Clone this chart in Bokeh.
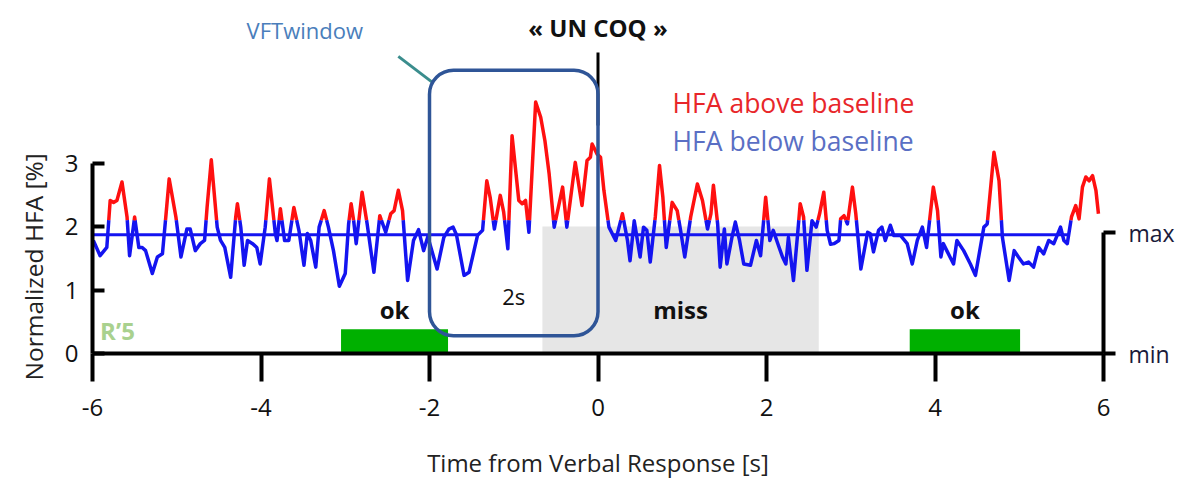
import numpy as np
from bokeh.plotting import figure
from bokeh.models import BoxAnnotation, LinearAxis, Range1d, FixedTicker, Label, Title
from bokeh.core.properties import value
from bokeh.embed import file_html
from bokeh.resources import INLINE

# ---------------- data ----------------
time_s = [-5.99, -5.91, -5.83, -5.79, -5.75, -5.71, -5.65, -5.59, -5.56, -5.50,
          -5.45, -5.41, -5.37, -5.29, -5.23, -5.17, -5.13, -5.09, -5.01, -4.95,
          -4.88, -4.84, -4.78, -4.72, -4.67, -4.64, -4.59, -4.52, -4.48, -4.43,
          -4.36, -4.30, -4.28, -4.24, -4.20, -4.16, -4.10, -4.05, -4.01, -3.95,
          -3.90, -3.83, -3.81, -3.77, -3.72, -3.67, -3.61, -3.55, -3.49, -3.45,
          -3.41, -3.35, -3.31, -3.25, -3.20, -3.14, -3.07, -3.00, -2.96, -2.93,
          -2.90, -2.87, -2.80, -2.74, -2.66, -2.59, -2.52, -2.46, -2.42, -2.37,
          -2.32, -2.26, -2.19, -2.13, -2.07, -2.02, -1.91, -1.83, -1.77, -1.72,
          -1.68, -1.59, -1.53, -1.43, -1.37, -1.32, -1.28, -1.23, -1.16, -1.12,
          -1.07, -1.02, -0.94, -0.90, -0.86, -0.82, -0.74, -0.68, -0.63, -0.58,
          -0.52, -0.42, -0.37, -0.27, -0.19, -0.13, -0.09, -0.07, -0.01, 0.03,
          0.07, 0.13, 0.21, 0.29, 0.35, 0.38, 0.43, 0.50, 0.54, 0.58,
          0.62, 0.68, 0.73, 0.77, 0.81, 0.88, 0.94, 0.98, 1.03, 1.10,
          1.18, 1.24, 1.30, 1.34, 1.37, 1.42, 1.45, 1.50, 1.53, 1.59,
          1.63, 1.68, 1.73, 1.81, 1.88, 1.93, 1.99, 2.04, 2.08, 2.15,
          2.19, 2.23, 2.26, 2.32, 2.37, 2.40, 2.44, 2.48, 2.54, 2.59,
          2.63, 2.68, 2.72, 2.76, 2.80, 2.86, 2.88, 2.92, 2.96, 3.02,
          3.06, 3.12, 3.20, 3.23, 3.27, 3.33, 3.37, 3.41, 3.47, 3.51,
          3.59, 3.67, 3.73, 3.79, 3.85, 3.90, 3.98, 4.03, 4.07, 4.10,
          4.14, 4.22, 4.26, 4.34, 4.42, 4.48, 4.58, 4.62, 4.70, 4.76,
          4.80, 4.88, 4.94, 4.99, 5.05, 5.11, 5.17, 5.23, 5.29, 5.35,
          5.41, 5.49, 5.53, 5.57, 5.62, 5.67, 5.71, 5.75, 5.79, 5.83,
          5.87, 5.91, 5.94]
hfa = [1.78, 1.54, 1.67, 2.41, 2.38, 2.41, 2.70, 2.15, 1.54, 2.15,
       1.67, 1.67, 1.62, 1.26, 1.52, 1.57, 2.15, 2.75, 2.15, 1.52,
       1.96, 1.96, 1.62, 1.73, 1.78, 2.30, 3.05, 1.99, 1.78, 1.67,
       1.20, 2.15, 2.36, 1.99, 1.39, 1.78, 1.73, 1.67, 1.41, 1.99,
       2.75, 1.89, 1.78, 2.28, 1.78, 1.78, 2.30, 1.94, 1.39, 1.89,
       1.78, 1.36, 1.99, 2.25, 1.99, 1.62, 1.06, 1.26, 2.04, 2.36,
       2.09, 1.73, 2.54, 2.04, 1.28, 2.17, 1.91, 2.20, 2.25, 2.57,
       2.25, 1.15, 1.78, 1.95, 1.62, 1.84, 1.33, 1.83, 1.96, 1.99,
       1.87, 1.23, 1.28, 1.86, 1.94, 2.72, 2.46, 1.96, 2.49, 2.23,
       1.65, 3.43, 2.41, 2.36, 2.41, 1.91, 3.96, 3.72, 3.35, 2.83,
       1.99, 2.62, 1.99, 3.01, 2.33, 3.04, 3.09, 3.30, 3.14, 3.09,
       2.57, 1.99, 1.78, 2.20, 1.78, 1.46, 2.09, 1.52, 1.99, 1.94,
       1.44, 2.15, 2.96, 2.46, 1.67, 2.38, 2.25, 1.94, 1.52, 2.15,
       2.67, 2.41, 1.96, 2.20, 2.65, 2.04, 1.36, 1.96, 1.41, 1.83,
       2.07, 1.78, 1.41, 1.39, 1.78, 1.54, 2.46, 1.78, 1.94, 1.67,
       1.52, 1.41, 1.83, 1.15, 1.89, 2.36, 2.15, 1.31, 2.09, 1.99,
       2.20, 2.54, 1.94, 1.72, 1.73, 1.78, 2.12, 2.17, 2.04, 2.62,
       2.20, 1.33, 1.91, 1.89, 1.60, 1.94, 1.99, 1.78, 2.02, 1.86,
       1.86, 1.73, 1.41, 1.78, 1.99, 1.67, 2.62, 2.25, 1.52, 1.73,
       1.62, 1.41, 1.78, 1.62, 1.41, 1.23, 1.99, 2.04, 3.17, 2.72,
       1.83, 1.15, 1.62, 1.52, 1.41, 1.44, 1.36, 1.67, 1.57, 1.78,
       1.73, 1.99, 1.78, 1.73, 2.15, 2.33, 2.12, 2.62, 2.78, 2.72,
       2.80, 2.57, 2.20]

baseline_level = 1.87
baseline_start = [-6.0, 0.18]
baseline_end = [-1.42, 5.58]
color_threshold = 2.1

event_start = [-3.05, -0.66, 3.70]
event_end = [-1.78, 2.62, 5.01]
event_top = [0.38, 2.0, 0.38]
event_label = ["ok", "miss", "ok"]
event_color = ["#00b000", "#e6e6e6", "#00b000"]

x_ticks = [-6, -4, -2, 0, 2, 4, 6]
y_ticks = [0, 1, 2, 3]
scale_ticks = [0, 1.9]
scale_labels = ["min", "max"]

FONT = "Open Sans"

# ---------------- split trace at the colour threshold ----------------
t = np.array(time_s, dtype=float)
v = np.array(hfa, dtype=float)
T = color_threshold
xs, ys = [t[0]], [v[0]]
for i in range(len(t) - 1):
    a, b = v[i] - T, v[i + 1] - T
    if a * b < 0:
        f = a / (a - b)
        xs.append(t[i] + f * (t[i + 1] - t[i]))
        ys.append(T)
    xs.append(t[i + 1])
    ys.append(v[i + 1])
xs = np.array(xs)
ys = np.array(ys)
red_y = np.where(ys >= T - 1e-9, ys, np.nan)
blue_y = np.where(ys <= T + 1e-9, ys, np.nan)

# ---------------- figure ----------------
PX_Y = 63.5
p = figure(width=1186, height=485, x_range=Range1d(-6, 6), y_range=Range1d(0, 340 / PX_Y),
           output_backend="svg", toolbar_location=None,
           min_border_left=92, min_border_right=83, min_border_top=13, min_border_bottom=132)
p.outline_line_color = None
p.grid.visible = False
p.background_fill_color = "white"

# events (gray miss zone and green ok bars)
p.quad(left=event_start, right=event_end, bottom=0, top=event_top,
       fill_color=event_color, line_color=None, level="underlay")
lab_x = [(s + e) / 2 for s, e in zip(event_start, event_end)]
p.text(x=lab_x, y=[0.70] * 3, text=event_label, text_align="center", text_baseline="middle",
       text_font=value(FONT), text_font_size="24px", text_font_style="bold", text_color="#111111")

# baseline and trace
p.segment(x0=baseline_start, x1=baseline_end, y0=[baseline_level] * 2, y1=[baseline_level] * 2,
          line_color="#1414f0", line_width=3)
p.line(xs, blue_y, line_color="#1414f0", line_width=3.5, line_join="round")
p.line(xs, red_y, line_color="#ff1010", line_width=3.5, line_join="round")

# VFT window box
box = BoxAnnotation(left=-2.0, right=0.0, bottom=0.28, top=4.46, fill_alpha=0,
                    line_color="#2f5597", line_alpha=1, line_width=3.5, border_radius=24)
p.add_layout(box)
p.segment(x0=[-2.37], y0=[4.68], x1=[-1.965], y1=[4.27], line_color="#3a8d8d", line_width=3)
p.add_layout(Label(x=-3.48, y=5.09, text="VFTwindow", text_align="center", text_baseline="middle",
                   text_font=FONT, text_font_size="22px", text_color="#4a7ebb"))
p.add_layout(Label(x=-1.0, y=0.90, text="2s", text_align="center", text_baseline="middle",
                   text_font=FONT, text_font_size="22px", text_color="#111111"))

# verbal response marker
p.segment(x0=[0], y0=[3.59], x1=[0], y1=[4.74], line_color="black", line_width=3)
p.add_layout(Label(x=0, y=5.13, text="« UN COQ »", text_align="center", text_baseline="middle",
                   text_font=FONT, text_font_size="24px", text_font_style="bold", text_color="#111111"))

# legend texts
p.add_layout(Label(x=0.885, y=3.94, text="HFA above baseline", text_baseline="middle",
                   text_font=FONT, text_font_size="26.5px", text_color="#e8262a"))
p.add_layout(Label(x=0.885, y=3.35, text="HFA below baseline", text_baseline="middle",
                   text_font=FONT, text_font_size="26.5px", text_color="#5a6fc4"))
p.add_layout(Label(x=-5.91, y=0.36, text="R’5", text_baseline="middle",
                   text_font=FONT, text_font_size="24px", text_font_style="bold", text_color="#a9d18e"))

# axes
xa = p.xaxis[0]
xa.bounds = (-6, 6)
xa.ticker = FixedTicker(ticks=x_ticks)
xa.major_label_overrides = {k: str(k) for k in x_ticks}
xa.minor_tick_line_color = None
xa.axis_line_width = 4
xa.major_tick_line_width = 4
xa.major_tick_out = 28
xa.major_tick_in = 0
xa.major_label_standoff = 17
xa.major_label_text_font = FONT
xa.major_label_text_font_size = "24px"
xa.major_label_text_color = "#111111"
xa.axis_label = "Time from Verbal Response [s]"
xa.axis_label_text_font = FONT
xa.axis_label_text_font_size = "24px"
xa.axis_label_text_font_style = "normal"
xa.axis_label_text_color = "#222222"
xa.axis_label_standoff = 27

ya = p.yaxis[0]
ya.bounds = (0, 3)
ya.ticker = FixedTicker(ticks=y_ticks)
ya.minor_tick_line_color = None
ya.axis_line_width = 4
ya.major_tick_line_width = 4
ya.major_tick_out = 0
ya.major_tick_in = 12
ya.major_label_standoff = 14
ya.major_label_text_font = FONT
ya.major_label_text_font_size = "24px"
ya.major_label_text_color = "#111111"

# y axis title, placed lower than the frame centre as in the original
ytitle = Title(text="Normalized HFA [%]", align="left", vertical_align="top", offset=-27,
               standoff=20, text_font=FONT, text_font_size="24.5px", text_font_style="normal",
               text_color="#222222")
p.add_layout(ytitle, "left")

ra = LinearAxis(bounds=(0, 1.9), ticker=FixedTicker(ticks=scale_ticks))
ra.major_label_overrides = {k: s for k, s in zip(scale_ticks, scale_labels)}
ra.minor_tick_line_color = None
ra.axis_line_width = 4
ra.major_tick_line_width = 4
ra.major_tick_out = 12
ra.major_tick_in = 0
ra.major_label_standoff = 13
ra.major_label_text_font = FONT
ra.major_label_text_font_size = "23px"
ra.major_label_text_color = "#1a1a3a"
p.add_layout(ra, "right")

open("out.html", "w").write(file_html(p, INLINE))
